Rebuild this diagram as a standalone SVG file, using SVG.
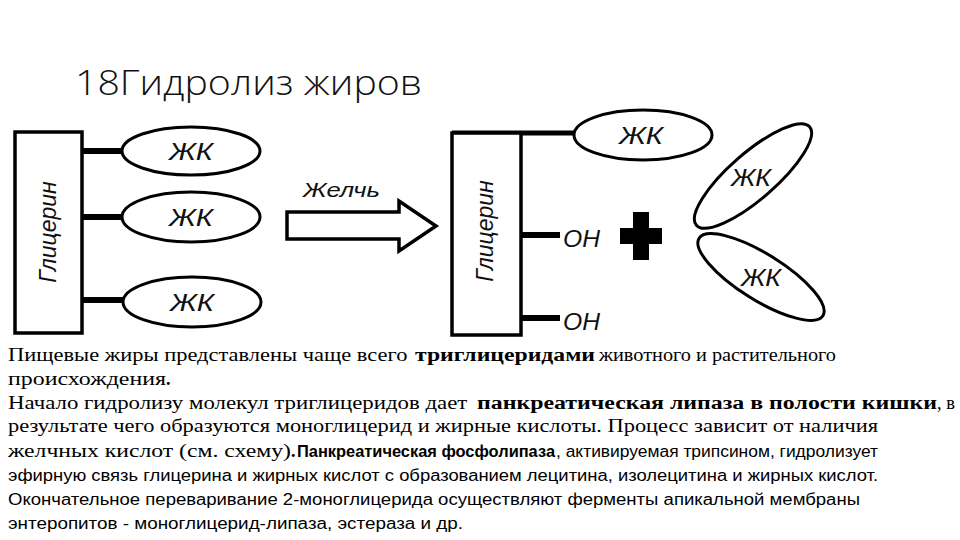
<svg xmlns="http://www.w3.org/2000/svg" width="960" height="540" viewBox="0 0 960 540">
<style>
.box{fill:#fff;stroke:#000;stroke-width:3.5}
.el{fill:#fff;stroke:#000;stroke-width:3}
.bond{stroke:#000;stroke-width:6;fill:none}
.lbl{font-family:"Liberation Sans",Arial,sans-serif;font-style:italic;font-size:24px;fill:#111;text-anchor:middle}
.gly{font-family:"Liberation Sans",Arial,sans-serif;font-style:italic;font-size:23px;fill:#111;text-anchor:middle}
.oh{font-family:"Liberation Sans",Arial,sans-serif;font-style:italic;font-size:24px;fill:#111}
.ser{font-family:"Liberation Serif","Times New Roman",serif;font-size:18px;fill:#000}
.san{font-family:"Liberation Sans",Arial,sans-serif;font-size:16px;fill:#000}
.b{font-weight:bold}
</style>
<rect width="960" height="540" fill="#fff"/>
<text x="75" y="95" font-family="'Open Sans','Liberation Sans',sans-serif" font-weight="300" font-size="35" fill="#111" textLength="347" lengthAdjust="spacingAndGlyphs">18Гидролиз жиров</text>

<g id="connectors">
<line class="bond" x1="82" y1="151" x2="124" y2="151"/>
<line class="bond" x1="82" y1="217" x2="124" y2="217"/>
<line class="bond" x1="82" y1="300" x2="124" y2="300"/>
<line x1="452" y1="133" x2="575" y2="133" stroke="#000" stroke-width="5"/>
<line class="bond" x1="521" y1="235" x2="560" y2="235"/>
<line class="bond" x1="521" y1="318" x2="560" y2="318"/>
</g>

<g id="glycerin-left">
<rect class="box" x="15" y="132" width="67" height="201"/>
<text class="gly" transform="translate(56,232) rotate(-90)">Глицерин</text>
</g>
<g id="fa-left-1">
<ellipse class="el" cx="191" cy="151" rx="69" ry="24"/>
<text class="lbl" x="191" y="160" textLength="44" lengthAdjust="spacingAndGlyphs">ЖК</text>
</g>
<g id="fa-left-2">
<ellipse class="el" cx="191" cy="217" rx="69" ry="25"/>
<text class="lbl" x="191" y="226" textLength="44" lengthAdjust="spacingAndGlyphs">ЖК</text>
</g>
<g id="fa-left-3">
<ellipse class="el" cx="192" cy="302" rx="69" ry="25"/>
<text class="lbl" x="192" y="311" textLength="44" lengthAdjust="spacingAndGlyphs">ЖК</text>
</g>

<g id="bile-arrow">
<path d="M287,212 H399 V201 L436,226 L399,251 V239 H287 Z" fill="#fff" stroke="#000" stroke-width="3.5" stroke-linejoin="miter"/>
<text x="303" y="197" font-family="'Liberation Sans',Arial,sans-serif" font-style="italic" font-size="20" fill="#111" textLength="77" lengthAdjust="spacingAndGlyphs">Желчь</text>
</g>

<g id="glycerin-right">
<rect class="box" x="452" y="133" width="69" height="202"/>
<text class="gly" transform="translate(493,231) rotate(-90)">Глицерин</text>
</g>
<g id="fa-right-top">
<ellipse class="el" cx="643" cy="135" rx="69" ry="25"/>
<text class="lbl" x="641" y="144" textLength="44" lengthAdjust="spacingAndGlyphs">ЖК</text>
</g>
<g id="oh-1">
<text class="oh" x="563" y="247" textLength="37" lengthAdjust="spacingAndGlyphs">OH</text>
</g>
<g id="oh-2">
<text class="oh" x="563" y="330" textLength="37" lengthAdjust="spacingAndGlyphs">OH</text>
</g>
<g id="plus">
<rect x="633" y="212" width="16" height="48" fill="#000"/>
<rect x="620" y="228" width="42" height="16" fill="#000"/>
</g>
<g id="fa-free-1">
<ellipse class="el" cx="753" cy="176" rx="75" ry="23" transform="rotate(-41 753 176)"/>
<text class="lbl" x="751" y="186" textLength="40" lengthAdjust="spacingAndGlyphs">ЖК</text>
</g>
<g id="fa-free-2">
<ellipse class="el" cx="761" cy="277" rx="73" ry="23" transform="rotate(32 761 277)"/>
<text class="lbl" x="761" y="286" textLength="40" lengthAdjust="spacingAndGlyphs">ЖК</text>
</g>

<g id="body-text">
<text class="ser" y="361"><tspan x="8" textLength="405" lengthAdjust="spacingAndGlyphs">Пищевые жиры представлены чаще всего </tspan><tspan class="b" x="415" textLength="180" lengthAdjust="spacingAndGlyphs">триглицеридами</tspan><tspan x="599" textLength="237" lengthAdjust="spacingAndGlyphs">животного и растительного</tspan></text>
<text class="ser" y="385"><tspan x="8" textLength="158" lengthAdjust="spacingAndGlyphs">происхождения</tspan><tspan class="b">.</tspan></text>
<text class="ser" y="409"><tspan x="8" textLength="465" lengthAdjust="spacingAndGlyphs">Начало гидролизу молекул триглицеридов дает </tspan><tspan class="b" x="477" textLength="460" lengthAdjust="spacingAndGlyphs">панкреатическая липаза в полости кишки</tspan><tspan x="937" textLength="18" lengthAdjust="spacingAndGlyphs">, в</tspan></text>
<text class="ser" y="432" x="8" textLength="870" lengthAdjust="spacingAndGlyphs">результате чего образуются моноглицерид и жирные кислоты. Процесс зависит от наличия</text>
<text y="457"><tspan class="ser" x="8" textLength="283" lengthAdjust="spacingAndGlyphs">желчных кислот (см. схему)</tspan><tspan class="ser b">.</tspan><tspan class="san b" x="297" textLength="258" lengthAdjust="spacingAndGlyphs">Панкреатическая фосфолипаза</tspan><tspan class="san" x="556" textLength="322" lengthAdjust="spacingAndGlyphs">, активируемая трипсином, гидролизует</tspan></text>
<text class="san" y="481" x="8" textLength="870" lengthAdjust="spacingAndGlyphs">эфирную связь глицерина и жирных кислот с образованием лецитина, изолецитина и жирных кислот.</text>
<text class="san" y="505" x="8" textLength="852" lengthAdjust="spacingAndGlyphs">Окончательное переваривание 2-моноглицерида осуществляют ферменты апикальной мембраны</text>
<text class="san" y="529" x="8" textLength="455" lengthAdjust="spacingAndGlyphs">энтеропитов - моноглицерид-липаза, эстераза и др.</text>
</g>
</svg>
